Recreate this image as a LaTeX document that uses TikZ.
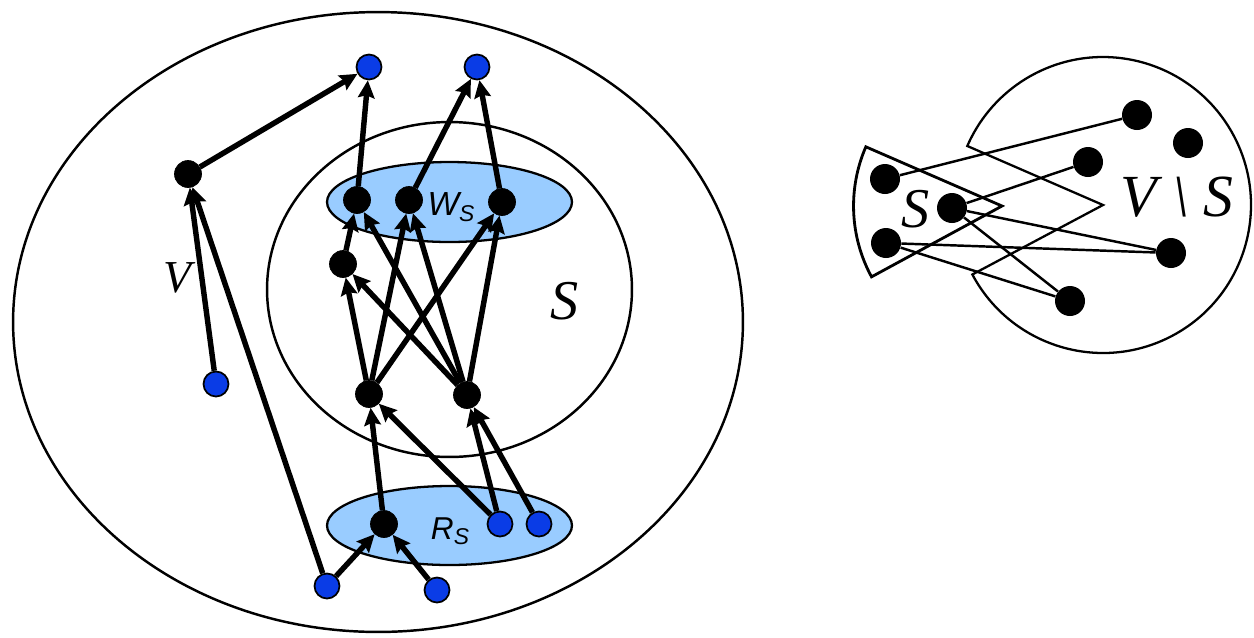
\documentclass[tikz,border=0pt]{standalone}
\usepackage{fontspec}
\setmainfont{Liberation Serif}
\setsansfont{Liberation Sans}
\newfontfamily\serit{Liberation Serif Italic}
\newfontfamily\sanit{Liberation Sans Italic}
\usetikzlibrary{arrows.meta}
\definecolor{nodeblue}{RGB}{10,60,230}
\definecolor{lightblue}{RGB}{153,204,255}
\begin{document}
\begin{tikzpicture}[x=0.02cm,y=-0.02cm,
  bdot/.style={circle,fill=black,draw=black,inner sep=0pt,minimum size=0.54cm},
  udot/.style={circle,fill=nodeblue,draw=black,line width=1pt,inner sep=0pt,minimum size=0.5cm},
  rdot/.style={circle,fill=black,inner sep=0pt,minimum size=0.6cm},
  arr/.style={line width=3.1pt,-{Stealth[length=3.5mm,width=3.3mm,inset=0.5mm]}},
  rline/.style={line width=1.4pt},
  region/.style={line width=1.4pt},
  setfill/.style={line width=1.3pt,fill=lightblue},
  serlab/.style={inner sep=0pt},
  sanslab/.style={inner sep=0pt},
]
\useasboundingbox (0,0) rectangle (1254,637);
% left picture regions
\draw[region] (378,322) ellipse [x radius=7.3cm, y radius=6.2cm];
\draw[region] (449.5,289.5) ellipse [x radius=3.65cm, y radius=3.35cm];
\draw[setfill] (449.5,202) ellipse [x radius=2.45cm, y radius=0.8cm];
\draw[setfill] (449.5,525.5) ellipse [x radius=2.45cm, y radius=0.79cm];
% labels
\node[serlab,font=\serit\fontsize{26}{26}\selectfont] (lV) at (177,278) {V};
\node[serlab,font=\serit\fontsize{32}{32}\selectfont] (lS) at (565,301) {S};
\node[sanslab,font=\sanit\fontsize{19}{19}\selectfont] (lW) at (451,207) {W\raisebox{-3pt}{\fontsize{13}{13}\selectfont S}};
\node[sanslab,font=\sanit\fontsize{18}{18}\selectfont] (lR) at (450,531) {R\raisebox{-3pt}{\fontsize{13}{13}\selectfont S}};
% nodes
\node[udot] (t1) at (369,67) {};
\node[udot] (t2) at (477,67) {};
\node[bdot] (a) at (188,174) {};
\node[bdot] (w1) at (357,200) {};
\node[bdot] (w2) at (409,200) {};
\node[bdot] (w3) at (502,202) {};
\node[bdot] (m) at (343,264) {};
\node[bdot] (l) at (369,394) {};
\node[bdot] (r) at (467,395) {};
\node[bdot] (rb) at (384,524) {};
\node[udot] (ru1) at (500,524) {};
\node[udot] (ru2) at (539,524) {};
\node[udot] (b1) at (327,586) {};
\node[udot] (b2) at (437,590) {};
\node[udot] (lb) at (216,384) {};
% arrows
\draw[arr] (a) -- (t1);
\draw[arr] (w1) -- (t1);
\draw[arr] (w2) -- (t2);
\draw[arr] (w3) -- (t2);
\draw[arr] (lb) -- (a);
\draw[arr] (b1) -- (a);
\draw[arr] (b1) -- (rb);
\draw[arr] (b2) -- (rb);
\draw[arr] (rb) -- (l);
\draw[arr] (ru1) -- (l);
\draw[arr] (ru1) -- (r);
\draw[arr] (ru2) -- (r);
\draw[arr] (m) -- (w1);
\draw[arr] (l) -- (m);
\draw[arr] (l) -- (w2);
\draw[arr] (l) -- (w3);
\draw[arr] (r) -- (m);
\draw[arr] (r) -- (w1);
\draw[arr] (r) -- (w2);
\draw[arr] (r) -- (w3);
% right picture
\coordinate (C) at (1103,205);
\coordinate (Sc) at (1002,206);
\draw[line width=1.3pt] (C) -- ++(208:2.96cm) arc[start angle=208, end angle=516.5, radius=2.96cm] -- cycle;
\draw[line width=1.6pt] (Sc) -- ++(156.5:2.97cm) arc[start angle=156.5, end angle=208.5, radius=2.97cm] -- cycle;
\node[serlab,font=\serit\fontsize{32}{32}\selectfont] (rS) at (916,209) {S};
\node[serlab,font=\serit\fontsize{34}{34}\selectfont] (rVS) at (1177,197) {V \textbackslash\ S};
\node[rdot] (s1) at (885,179) {};
\node[rdot] (s2) at (952,208) {};
\node[rdot] (s3) at (886,243) {};
\node[rdot] (v1) at (1137,115) {};
\node[rdot] (v2) at (1188,143) {};
\node[rdot] (v3) at (1088,162) {};
\node[rdot] (v4) at (1171,253) {};
\node[rdot] (v5) at (1070,301) {};
\draw[rline] (s1) -- (v1);
\draw[rline] (s2) -- (v3);
\draw[rline] (s2) -- (v4);
\draw[rline] (s2) -- (v5);
\draw[rline] (s3) -- (v4);
\draw[rline] (s3) -- (v5);
\end{tikzpicture}
\end{document}
